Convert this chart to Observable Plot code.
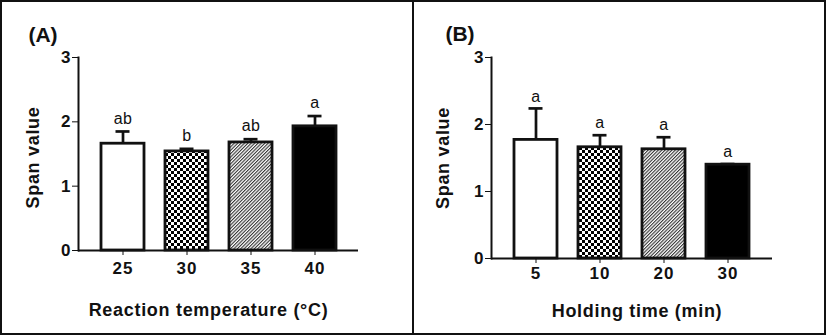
<!DOCTYPE html>
<html>
<head>
<meta charset="utf-8">
<script src="https://cdn.jsdelivr.net/npm/d3@7"></script>
<script src="https://cdn.jsdelivr.net/npm/@observablehq/plot@0.6"></script>
<style>
  body { margin: 0; background: #fff; }
  #wrap { position: relative; width: 827px; height: 336px; background: #fff; overflow: hidden; }
  .panel { position: absolute; top: 0; }
  .box { position: absolute; left: 0; top: 0; width: 826px; height: 335px; border: 2px solid #111; box-sizing: border-box; z-index: 5; pointer-events: none; }
  .divider { position: absolute; left: 412px; top: 0; width: 2px; height: 335px; background: #111; z-index: 5; }
</style>
</head>
<body>
<svg width="0" height="0" style="position:absolute">
  <defs>
    <pattern id="checker" width="6" height="6" patternUnits="userSpaceOnUse">
      <rect width="6" height="6" fill="#fff"/>
      <rect width="3" height="3" fill="#000"/>
      <rect x="3" y="3" width="3" height="3" fill="#000"/>
    </pattern>
    <pattern id="hatch" width="2.4" height="2.4" patternUnits="userSpaceOnUse" patternTransform="rotate(45)">
      <rect width="2.4" height="2.4" fill="#fff"/>
      <rect width="1.1" height="2.4" fill="#333"/>
    </pattern>
  </defs>
</svg>
<div id="wrap">
  <div class="box"></div>
  <div class="divider"></div>
  <div class="panel" id="panelA" style="left:0px"></div>
  <div class="panel" id="panelB" style="left:414px"></div>
</div>
<script>
// ---- Data ----
const tempCats = ["25", "30", "35", "40"];
const tempMeans = [1.66, 1.54, 1.68, 1.93];
const tempSD = [0.19, 0.04, 0.05, 0.16];
const tempLetters = ["ab", "b", "ab", "a"];

const timeCats = ["5", "10", "20", "30"];
const timeMeans = [1.77, 1.66, 1.63, 1.40];
const timeSD = [0.47, 0.18, 0.18, 0.01];
const timeLetters = ["a", "a", "a", "a"];

const yTicks = [0, 1, 2, 3];
const yLabel = "Span value";
const xLabelA = "Reaction temperature (°C)";
const xLabelB = "Holding time (min)";
const tagA = "(A)";
const tagB = "(B)";

const fills = ["white", "url(#checker)", "url(#hatch)", "black"];
const FONT = "'Liberation Sans', Arial, Helvetica, sans-serif";

function makePanel(cats, means, sds, letters, xLabel, tag, o) {
  const data = cats.map((c, i) => ({cat: c, mean: means[i], top: means[i] + sds[i], letter: letters[i]}));
  const svg = Plot.plot({
    width: o.width,
    height: 336,
    marginLeft: o.ml,
    marginRight: o.mr,
    marginTop: o.mt,
    marginBottom: o.mb,
    style: {fontFamily: FONT, background: "transparent", overflow: "visible", color: "#111"},
    x: {domain: cats, padding: 0.33, align: 0.5},
    y: {domain: [0, 3]},
    color: {type: "ordinal", domain: cats, range: fills},
    marks: [
      Plot.ruleX(data, {x: "cat", y1: "mean", y2: "top", stroke: "#111", strokeWidth: 2.7}),
      Plot.tickY(data, {x: "cat", y: "top", stroke: "#111", strokeWidth: 2.7, insetLeft: 14.5, insetRight: 14.5}),
      Plot.barY(data, {x: "cat", y: "mean", fill: "cat", stroke: "#111", strokeWidth: 2.8}),
      Plot.text(data, {x: "cat", y: "top", text: "letter", dy: o.letterDy, fontSize: 16, fill: "#111", lineAnchor: "middle", textAnchor: "middle"}),
      Plot.ruleY([0], {stroke: "#111", strokeWidth: 2}),
      Plot.frame({anchor: "left", stroke: "#111", strokeWidth: 2}),
      Plot.axisY({ticks: yTicks, tickFormat: d => String(d), tickSize: 6, tickPadding: 2, fontSize: 17, fontWeight: "bold", label: null}),
      Plot.axisX({tickSize: 5, tickPadding: o.xtp, fontSize: 17, fontWeight: "bold", label: null}),
      Plot.text([yLabel], {text: d => d, frameAnchor: "left", rotate: -90, textAnchor: "middle", lineAnchor: "middle", dx: o.ylDx, dy: o.ylDy, fontSize: 18, fontWeight: "bold", fill: "#111"}),
      Plot.text([xLabel], {text: d => d, frameAnchor: "bottom", textAnchor: "middle", lineAnchor: "middle", dx: o.xlDx, dy: o.xlDy, fontSize: 18, fontWeight: "bold", fill: "#111"}),
      Plot.text([tag], {text: d => d, frameAnchor: "top-left", textAnchor: "middle", lineAnchor: "middle", dx: o.tagDx, dy: o.tagDy, fontSize: 21, fontWeight: "bold", fill: "#111"})
    ]
  });
  d3.select(svg).selectAll("g[aria-label='x-axis tick label'] text").style("letter-spacing", "1px");
  d3.select(svg).selectAll("text").filter(function () { return this.textContent === xLabel || this.textContent === yLabel; }).style("letter-spacing", "0.7px");
  d3.select(svg).selectAll("text").filter(function () { return letters.includes(this.textContent); }).style("letter-spacing", "0.4px");
  return svg;
}

document.getElementById("panelA").appendChild(makePanel(tempCats, tempMeans, tempSD, tempLetters, xLabelA, tagA, {
  width: 412, ml: 78, mr: 54, mt: 57, mb: 86, letterDy: -13, xtp: 6,
  ylDx: -45.5, ylDy: 3.5, xlDx: -10, xlDy: 60, tagDx: -35.5, tagDy: -22
}));
document.getElementById("panelB").appendChild(makePanel(timeCats, timeMeans, timeSD, timeLetters, xLabelB, tagB, {
  width: 413, ml: 77, mr: 55, mt: 57, mb: 78, letterDy: -12, xtp: 3,
  ylDx: -48, ylDy: 0, xlDx: 5, xlDy: 52.5, tagDx: -31.5, tagDy: -23
}));
</script>
</body>
</html>
